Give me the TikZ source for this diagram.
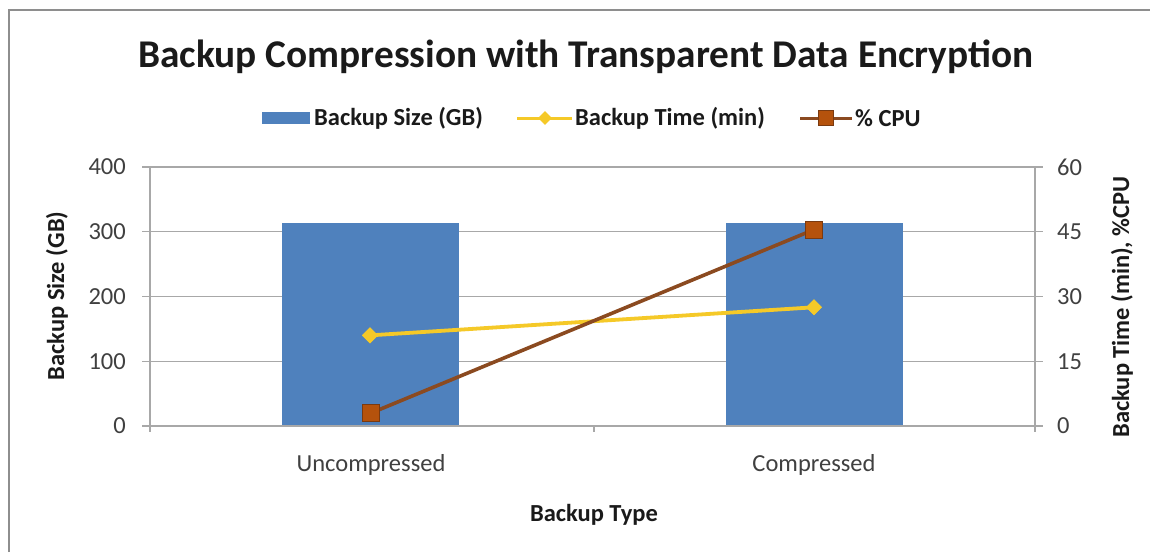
\documentclass[tikz,border=0pt]{standalone}
\usepackage{fontspec}
\setmainfont{Carlito}
\usetikzlibrary{shapes.geometric}

\definecolor{barblue}{HTML}{4F81BD}
\definecolor{timeyellow}{HTML}{F5C928}
\definecolor{cpuline}{HTML}{8B4A20}
\definecolor{cpufill}{HTML}{B5520C}
\definecolor{cpuedge}{HTML}{7A3A10}
\definecolor{gridgray}{HTML}{A8A8A8}
\definecolor{framegray}{HTML}{8E8E8E}
\definecolor{labelgray}{HTML}{404040}
\definecolor{titleblack}{HTML}{1A1A1A}

% value -> page y (pixels measured from top)
\newcommand{\gbY}[1]{426-0.6475*(#1)}
\newcommand{\minY}[1]{426-4.31667*(#1)}

\begin{document}
\begin{tikzpicture}[x=1pt,y=-1pt,
  gridline/.style={draw=gridgray,line width=1.4pt},
  axisline/.style={draw=gridgray,line width=1.4pt},
  barbox/.style={fill=barblue,draw=none,minimum width=177pt,inner sep=0pt,anchor=south},
  ticklbl/.style={font=\fontsize{24.5}{28}\selectfont,text=labelgray,inner sep=0pt},
  axtitle/.style={font=\bfseries\fontsize{24.5}{28}\selectfont,text=titleblack,inner sep=0pt},
  legtext/.style={font=\bfseries\fontsize{24.5}{28}\selectfont,text=titleblack,inner sep=0pt,anchor=west},
  timeline/.style={draw=timeyellow,line width=3.8pt},
  cpuseries/.style={draw=cpuline,line width=3.6pt},
  timemark/.style={diamond,fill=timeyellow,draw=none,minimum width=16pt,minimum height=16pt,inner sep=0pt},
  cpumark/.style={rectangle,fill=cpufill,draw=cpuedge,line width=0.8pt,minimum size=17pt,inner sep=0pt},
]
\useasboundingbox (0,0) rectangle (1150,552);
\fill[white] (0,0) rectangle (1150,552);

% chart frame (top and left edges)
\draw[framegray,line width=2pt] (8.5,552) -- (8.5,9.5) -- (1150,9.5);

% title
\node[font=\bfseries\fontsize{39.3}{44}\selectfont,text=titleblack,inner sep=0pt] (title) at (586,57) {Backup Compression with Transparent Data Encryption};

% legend
\node[fill=barblue,minimum width=48pt,minimum height=12pt,inner sep=0pt] (legbar) at (286,118) {};
\node[legtext] (legbartxt) at (314,118) {Backup Size (GB)};
\coordinate (lt1) at (517,118);
\coordinate (lt2) at (572,118);
\draw[timeline,line width=3pt] (lt1) -- (lt2);
\node[timemark,minimum width=14pt,minimum height=14pt] (legtime) at (545,118) {};
\node[legtext] (legtimetxt) at (575,118) {Backup Time (min)};
\coordinate (lc1) at (800,118);
\coordinate (lc2) at (852,118);
\draw[cpuseries,line width=3pt] (lc1) -- (lc2);
\node[cpumark,minimum size=15pt] (legcpu) at (826,118) {};
\node[legtext] (legcputxt) at (855,118) {\% CPU};

% horizontal gridlines
\foreach \v in {100,200,300,400}
  \draw[gridline] (142,{\gbY{\v}}) -- (1043,{\gbY{\v}});

% bars
\node[barbox,minimum height=203pt] (barU) at (370,426) {};
\node[barbox,minimum height=203pt] (barC) at (814,426) {};

% axes
\draw[axisline] (142,426) -- (1043,426);
\draw[axisline] (150,167) -- (150,432);
\draw[axisline] (1035,167) -- (1035,432);
\draw[axisline] (594,426) -- (594,432);

% left tick labels
\foreach \v in {0,100,200,300,400}
  \node[ticklbl,anchor=east] at (126,{\gbY{\v}}) {\v};
% right tick labels
\foreach \t in {0,15,30,45,60}
  \node[ticklbl,anchor=west] at (1057,{\minY{\t}}) {\t};

% category labels
\node[ticklbl] (catU) at (371,465) {Uncompressed};
\node[ticklbl] (catC) at (814,465) {Compressed};

% axis titles
\node[axtitle] (xtitle) at (594,515) {Backup Type};
\node[axtitle,rotate=90] (ylt) at (57,296) {Backup Size (GB)};
\node[axtitle,rotate=90] (yrt) at (1122,307) {Backup Time (min), \%CPU};

% series: backup time
\node[timemark] (tU) at (370,{\minY{21}}) {};
\node[timemark] (tC) at (814,{\minY{27.5}}) {};
\draw[timeline] (tU.center) -- (tC.center);
\node[timemark] at (tU) {};
\node[timemark] at (tC) {};

% series: % CPU
\coordinate (cU) at (371,{\minY{3}});
\coordinate (cC) at (814,{\minY{45.5}});
\draw[cpuseries] (cU) -- (cC);
\node[cpumark] (cpuU) at (cU) {};
\node[cpumark] (cpuC) at (cC) {};
\end{tikzpicture}
\end{document}
